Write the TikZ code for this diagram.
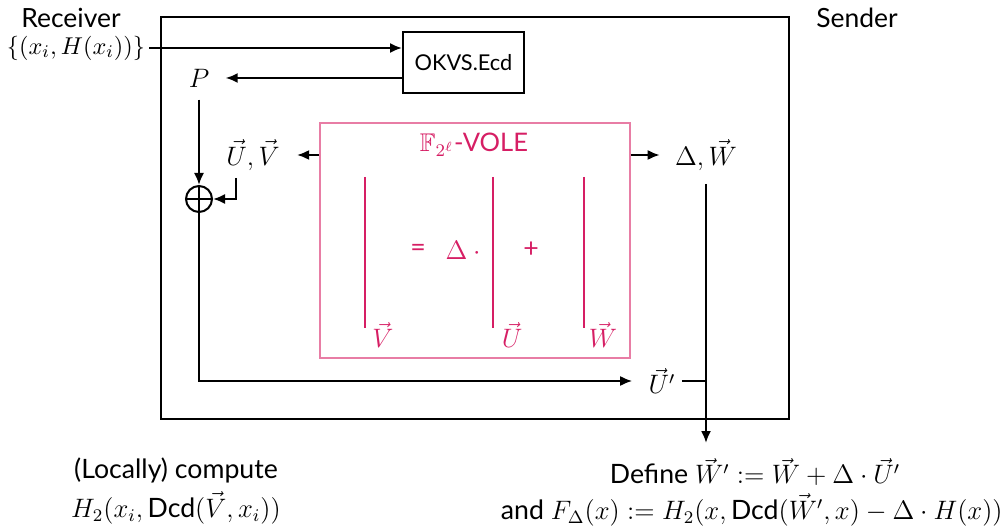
\documentclass[tikz,border=0pt]{standalone}
\usepackage{amssymb}
\usepackage{fontspec}
\setmainfont{Lato}
\usetikzlibrary{arrows.meta}
\definecolor{volec}{RGB}{214,30,100}
\definecolor{voleb}{RGB}{232,125,165}
\begin{document}
\begin{tikzpicture}[x=0.45pt,y=-0.45pt,
  font=\fontsize{12}{14}\selectfont,
  conn/.style={line width=0.9pt,-{Latex[length=5.4pt,width=4.5pt]}},
  plain/.style={line width=0.9pt},
  lbl/.style={inner sep=0pt},
  box/.style={draw,line width=0.9pt,inner sep=0pt},
  vbar/.style={draw=volec,line width=0.9pt},
  oplusnode/.style={circle,draw,line width=0.9pt,minimum size=11.7pt,inner sep=0pt,
    path picture={\draw[line width=0.9pt] (path picture bounding box.north) -- (path picture bounding box.south)
      (path picture bounding box.west) -- (path picture bounding box.east);}}]
\useasboundingbox (0,0) rectangle (1007,526);

% frames
\node[box,line width=1.1pt,minimum width=282.6pt,minimum height=180.9pt] (outer) at (475,218) {};
\node[box,minimum width=54.45pt,minimum height=27.45pt,font=\fontsize{9.8}{12}\selectfont] (okvs) at (463.5,62.5) {OKVS.Ecd};
\node[draw=voleb,line width=0.7pt,inner sep=0pt,minimum width=139.5pt,minimum height=105.75pt] (vole) at (475,240.5) {};

% labels
\node[lbl,font=\fontsize{11.9}{14}\selectfont] (recv) at (71,18) {Receiver};
\node[lbl,font=\fontsize{11.9}{14}\selectfont] (send) at (857,18) {Sender};
\node[lbl,font=\fontsize{10.95}{13}\selectfont] (set) at (76,48) {$\{(x_i,H(x_i))\}$};
\node[lbl] (P) at (199,78) {$P$};
\node[lbl] (UV) at (253,155) {$\vec U,\vec V$};
\node[lbl] (DW) at (706,155) {$\Delta,\vec W$};
\node[lbl] (Up) at (662,381) {$\vec U'$};
\node[oplusnode] (op) at (199,199) {};

% VOLE contents
\node[lbl,text=volec,font=\fontsize{11.5}{14}\selectfont] (title) at (474,145) {$\mathbb{F}_{2^\ell}$-VOLE};
\node[lbl,text=volec] (eq) at (418,250) {=};
\node[lbl,text=volec] (dl) at (466,250) {$\Delta\cdot{}$};
\node[lbl,text=volec] (pl) at (531,250) {+};
\node[lbl,text=volec] (lv) at (383,335) {$\vec V$};
\node[lbl,text=volec] (lu) at (512,335) {$\vec U$};
\node[lbl,text=volec] (lw) at (603,335) {$\vec W$};
\coordinate (v1) at (365,177); \coordinate (v2) at (365,328);
\coordinate (u1) at (493,177); \coordinate (u2) at (493,328);
\coordinate (w1) at (584,177); \coordinate (w2) at (584,328);
\draw[vbar] (v1) -- (v2);
\draw[vbar] (u1) -- (u2);
\draw[vbar] (w1) -- (w2);

% bottom texts
\node[lbl] (loc1) at (176,470) {(Locally) compute};
\node[lbl] (loc2) at (176,508) {$H_2(x_i,\mbox{Dcd}(\vec V,x_i))$};
\node[lbl] (def1) at (755,472) {Define $\vec W' := \vec W + \Delta\cdot \vec U'$};
\node[lbl,anchor=east] (def2) at (1003,510) {and $F_\Delta(x) := H_2(x,\mbox{Dcd}(\vec W',x)-\Delta\cdot H(x))$};

% connectors
\coordinate (in) at (149,48);
\coordinate (dwend) at (706,443);
\draw[conn] (in) -- (in -| okvs.west);
\draw[conn,shorten >=7.2pt] (okvs.west |- P) -- (P.east);
\draw[conn,shorten <=5.4pt] (P.south) -- (op.north);
\draw[conn,shorten >=7.65pt] (vole.west |- UV) -- (UV.east);
\draw[conn,shorten <=3.15pt] ([xshift=-7.65pt]UV.south) |- (op.east);
\draw[conn,shorten >=7.2pt] (op.south) |- (Up.west);
\draw[conn,shorten >=6.75pt] (vole.east |- DW) -- (DW.west);
\draw[conn,shorten <=5.85pt] (DW.south) -- (dwend);
\draw[plain,shorten <=2.7pt] (Up.east) -- (Up.east -| dwend);
\end{tikzpicture}
\end{document}
